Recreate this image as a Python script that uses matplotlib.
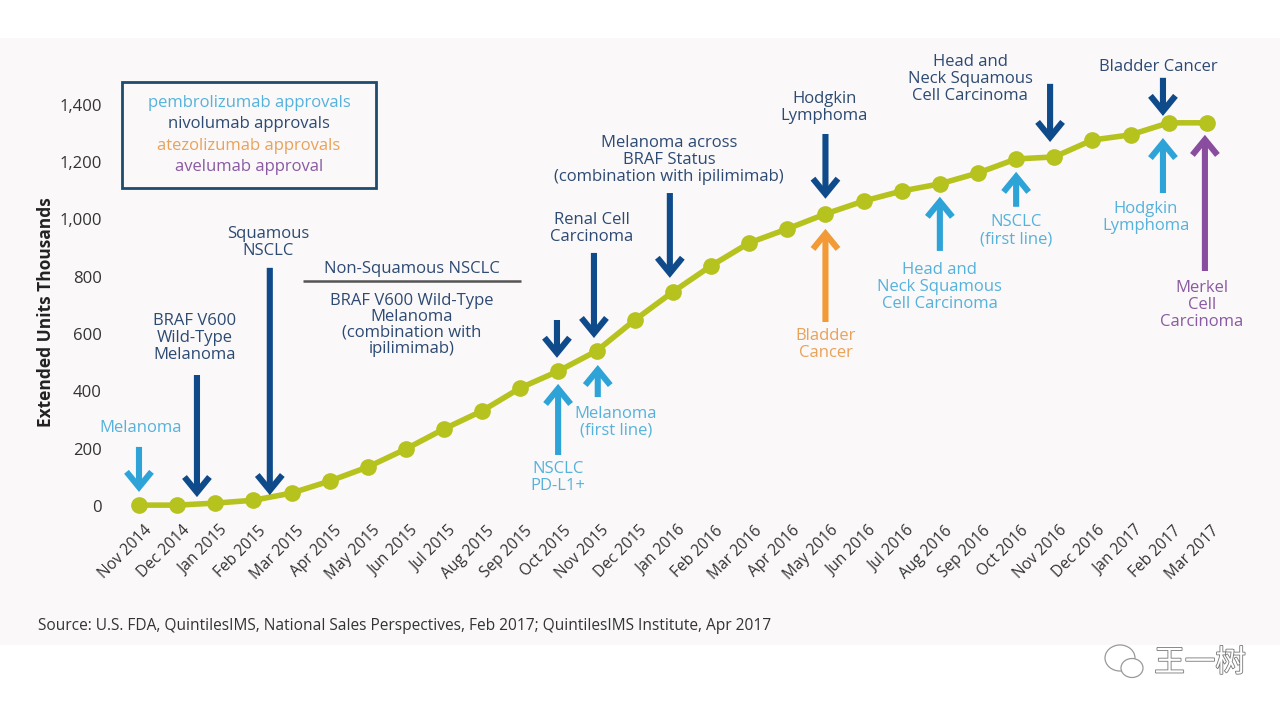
import matplotlib
matplotlib.use("Agg")
import matplotlib.pyplot as plt
from matplotlib.patches import Rectangle, FancyArrowPatch, Ellipse
import matplotlib.patheffects as pe
import matplotlib.transforms as mtransforms

# ---------------- data ----------------
months = ["Nov 2014", "Dec 2014", "Jan 2015", "Feb 2015", "Mar 2015", "Apr 2015",
          "May 2015", "Jun 2015", "Jul 2015", "Aug 2015", "Sep 2015", "Oct 2015",
          "Nov 2015", "Dec 2015", "Jan 2016", "Feb 2016", "Mar 2016", "Apr 2016",
          "May 2016", "Jun 2016", "Jul 2016", "Aug 2016", "Sep 2016", "Oct 2016",
          "Nov 2016", "Dec 2016", "Jan 2017", "Feb 2017", "Mar 2017"]
units = [3, 3, 10, 20, 45, 87, 136, 199, 269, 332, 412, 471, 541, 649, 747, 838,
         918, 967, 1019, 1064, 1099, 1124, 1162, 1211, 1218, 1277, 1295, 1337, 1337]
yticks = [0, 200, 400, 600, 800, 1000, 1200, 1400]

legend_labels = ["pembrolizumab approvals", "nivolumab approvals",
                 "atezolizumab approvals", "avelumab approval"]

# ---------------- styles ----------------
FONT = "Open Sans"
plt.rcParams["font.family"] = [FONT, "DejaVu Sans"]
LINE_COLOR = "#b6c21e"
ARROW = {"pembro": "#2ea3d8", "nivo": "#0f4a8a", "atezo": "#f29a35", "avel": "#8a4c9e"}
TEXT = {"pembro": "#55b2dc", "nivo": "#2d4a73", "atezo": "#e9a25a", "avel": "#8a5aa2"}
FS = 12

# annotations: (drug, text, text_x, text_y, arrow_x, arrow_tail, arrow_head)
annotations = [
    ("pembro", "Melanoma", 0.05, 272, 0.0, 206, 49),
    ("nivo", "BRAF V600\nWild-Type\nMelanoma", 1.47, 586, 1.52, 457, 31),
    ("nivo", "Squamous\nNSCLC", 3.38, 921, 3.43, 831, 38),
    ("nivo", "Renal Cell\nCarcinoma", 11.88, 967, 11.93, 883, 586),
    ("nivo", "Melanoma across\nBRAF Status\n(combination with ipilimimab)", 13.9, 1208, 13.92, 1092, 796),
    ("nivo", "Hodgkin\nLymphoma", 17.97, 1389, 18.0, 1298, 1072),
    ("nivo", "Head and\nNeck Squamous\nCell Carcinoma", 21.79, 1490, 23.89, 1473, 1270),
    ("nivo", "Bladder Cancer", 26.74, 1532, 26.85, 1494, 1361),
    ("nivo", None, 0, 0, 10.96, 649, 517),
    ("pembro", "NSCLC\nPD-L1+", 10.99, 98, 10.99, 178, 426),
    ("pembro", "Melanoma\n(first line)", 12.51, 293, 12.03, 380, 492),
    ("atezo", "Bladder\nCancer", 18.0, 562, 18.0, 642, 967),
    ("pembro", "Head and\nNeck Squamous\nCell Carcinoma", 21.0, 764, 21.0, 890, 1079),
    ("pembro", "NSCLC\n(first line)", 23.0, 960, 23.0, 1044, 1166),
    ("pembro", "Hodgkin\nLymphoma", 26.4, 1005, 26.85, 1092, 1284),
    ("avel", "Merkel\nCell\nCarcinoma", 27.87, 702, 27.95, 820, 1295),
]

# ---------------- figure ----------------
W, H = 1280, 720
fig = plt.figure(figsize=(12.8, 7.2), dpi=100)
fig.patch.set_facecolor("white")
fig.patches.append(Rectangle((0, 1 - 645 / H), 1, (645 - 38) / H, transform=fig.transFigure,
                             facecolor="#faf8f8", edgecolor="none", zorder=-10))

ax = fig.add_axes([120 / W, 1 - 520 / H, 1120 / W, 480 / H])
ax.set_facecolor("none")
ax.set_xlim(-0.498, 28.87)
ax.set_ylim(-48.9, 1626)
for s in ax.spines.values():
    s.set_visible(False)

x = list(range(len(months)))
ax.plot(x, units, color=LINE_COLOR, lw=4, marker="o", ms=11, zorder=3, solid_capstyle="round")

ax.set_yticks(yticks)
ax.set_yticklabels([f"{v:,}" for v in yticks], fontsize=12, color="#333333")
ax.tick_params(axis="y", length=0, pad=13)
ax.set_xticks(x)
ax.set_xticklabels(months, rotation=45, ha="right", va="center", rotation_mode="anchor",
                   fontsize=11.2, color="#333333")
ax.tick_params(axis="x", length=0, pad=6)
offset = mtransforms.ScaledTranslation(10 / 100, 0, fig.dpi_scale_trans)
for lab in ax.get_xticklabels():
    lab.set_transform(lab.get_transform() + offset)

fig.text(46 / W, 1 - 312 / H, "Extended Units Thousands", rotation=90, ha="center", va="center",
         fontsize=12.5, fontweight="bold", color="#222222")

# annotations
for drug, txt, tx, ty, axx, tail, head in annotations:
    arr = FancyArrowPatch((axx, tail), (axx, head), arrowstyle="->,head_length=0.55,head_width=0.45",
                          mutation_scale=20, lw=4.4, color=ARROW[drug], shrinkA=0, shrinkB=0,
                          zorder=4, capstyle="butt", joinstyle="miter")
    ax.add_patch(arr)
    if txt:
        ax.text(tx, ty, txt, ha="center", va="center", fontsize=FS, color=TEXT[drug],
                linespacing=1.08, zorder=5)

# Non-squamous NSCLC block
ax.text(7.16, 827, "Non-Squamous NSCLC", ha="center", va="center", fontsize=FS, color=TEXT["nivo"])
ax.plot([4.30, 10.02], [785, 785], color="#555555", lw=1.8, solid_capstyle="butt")
ax.text(7.16, 632, "BRAF V600 Wild-Type\nMelanoma\n(combination with\nipilimimab)", ha="center",
        va="center", fontsize=FS, color=TEXT["nivo"], linespacing=1.0)

# legend box
fig.patches.append(Rectangle((122 / W, 1 - 188 / H), 254 / W, 106 / H, transform=fig.transFigure,
                             facecolor="none", edgecolor="#1f4b6e", lw=2))
leg_colors = [TEXT["pembro"], TEXT["nivo"], TEXT["atezo"], TEXT["avel"]]
for i, (lab, c) in enumerate(zip(legend_labels, leg_colors)):
    fig.text(249 / W, 1 - (103 + 21.3 * i) / H, lab, ha="center", va="center", fontsize=12, color=c)

# source
fig.text(38 / W, 1 - 626 / H, "Source: U.S. FDA, QuintilesIMS, National Sales Perspectives, Feb 2017; "
         "QuintilesIMS Institute, Apr 2017", ha="left", va="center", fontsize=11.2, color="#333333")

# watermark
fig.patches.append(Ellipse((1120 / W, 1 - 658 / H), 30 / W, 26 / H, transform=fig.transFigure,
                           facecolor="white", edgecolor="#999999", lw=0.9))
fig.patches.append(Ellipse((1132 / W, 1 - 668 / H), 22 / W, 19 / H, transform=fig.transFigure,
                           facecolor="white", edgecolor="#999999", lw=0.9))
fig.text(1200 / W, 1 - 663 / H, "王一树", ha="center", va="center", fontsize=22,
         family=["Noto Sans CJK SC", "DejaVu Sans"], color="white",
         path_effects=[pe.withStroke(linewidth=1.2, foreground="#777777")])

fig.savefig("out.png", dpi=100)
